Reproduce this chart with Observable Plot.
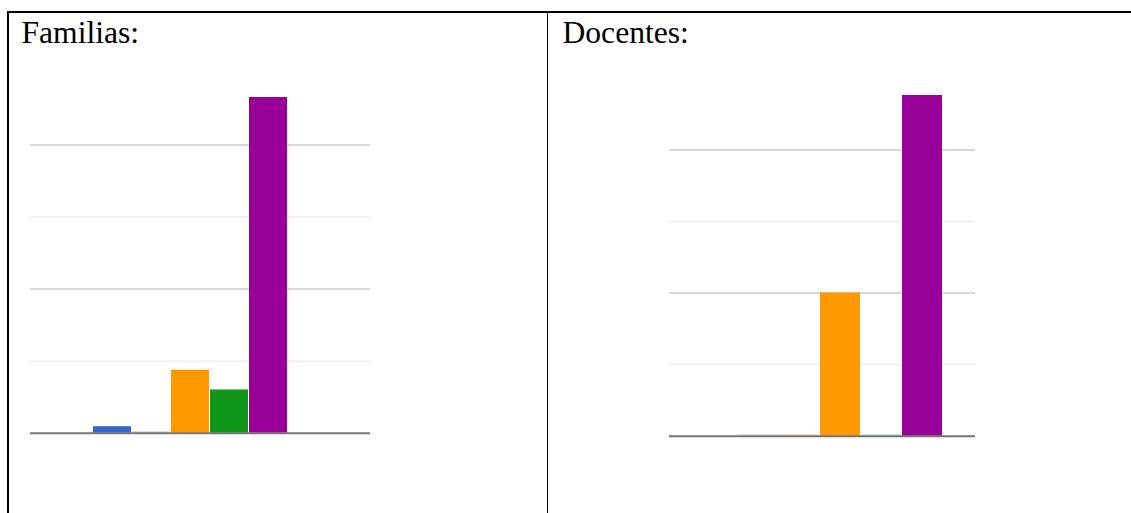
<!DOCTYPE html>
<html>
<head>
<meta charset="utf-8">
<script src="https://cdn.jsdelivr.net/npm/d3@7"></script>
<script src="https://cdn.jsdelivr.net/npm/@observablehq/plot@0.6"></script>
<style>
  html, body { margin: 0; padding: 0; background: #fff; }
  body { width: 1131px; height: 513px; position: relative; overflow: hidden; }
  .border-top { position: absolute; left: 7px; top: 11px; width: 1124px; height: 0; border-top: 2px solid #000; }
  .border-left { position: absolute; left: 7px; top: 11px; width: 0; height: 510px; border-left: 2px solid #000; }
  .divider { position: absolute; left: 547px; top: 11px; width: 0; height: 510px; border-left: 1px solid #000; }
  .title { position: absolute; font-family: "Liberation Serif", "DejaVu Serif", serif; font-size: 31.6px; line-height: 31.6px; color: #000; white-space: nowrap; }
  .chart { position: absolute; top: 0; }
</style>
</head>
<body>
<div class="border-top"></div>
<div class="border-left"></div>
<div class="divider"></div>
<div class="title" id="t1" style="left:21.5px; top:16.8px;">Familias:</div>
<div class="title" id="t2" style="left:562.5px; top:16.8px;">Docentes:</div>
<div class="chart" id="c1" style="left:0px;"></div>
<div class="chart" id="c2" style="left:549px;"></div>
<script>
// Categories (response options) and bar colours
const categories = ["1", "2", "3", "4", "5"];
const barColors = ["#3366cc", "#dc3912", "#ff9900", "#109618", "#990099"];
// Series values
const familiasValues = [0.9, 0, 8.75, 6, 46.6];
const docentesValues = [0, 0, 20, 0, 47.6];
// Gridline values
const gridTicks = [10, 20, 30, 40];
const majorTicks = [20, 40];

function makeChart(values, opts) {
  const data = categories.map((c, i) => ({cat: c, value: values[i], color: barColors[i]}));
  const ymax = d3.max(values);
  return Plot.plot({
    width: opts.width,
    height: 513,
    marginLeft: opts.marginLeft,
    marginRight: opts.marginRight,
    marginTop: opts.marginTop,
    marginBottom: opts.marginBottom,
    style: {background: "transparent", overflow: "visible"},
    x: {type: "band", domain: categories, axis: null, insetLeft: opts.insetLeft, insetRight: opts.insetRight, paddingInner: 0.03, paddingOuter: 0},
    y: {domain: [0, ymax], axis: null},
    color: {type: "identity"},
    marks: [
      Plot.ruleY(gridTicks, {stroke: d => majorTicks.includes(d) ? "#cccccc" : "#ebebeb", strokeWidth: 1.5}),
      Plot.barY(data, {x: "cat", y: "value", fill: "color"}),
      Plot.tickY(data.filter(d => d.value === 0), {x: "cat", y: "value", stroke: "color", strokeOpacity: 0.25, strokeWidth: 1, dy: -1.5}),
      Plot.ruleY([0], {stroke: "#737373", strokeWidth: 2})
    ]
  });
}

document.getElementById("c1").appendChild(makeChart(familiasValues, {
  width: 548, marginLeft: 30, marginRight: 178, marginTop: 97, marginBottom: 80.3,
  insetLeft: 61.4, insetRight: 82.5
}));
document.getElementById("c2").appendChild(makeChart(docentesValues, {
  width: 582, marginLeft: 120, marginRight: 156, marginTop: 95, marginBottom: 77.3,
  insetLeft: 67, insetRight: 32
}));
</script>
</body>
</html>
